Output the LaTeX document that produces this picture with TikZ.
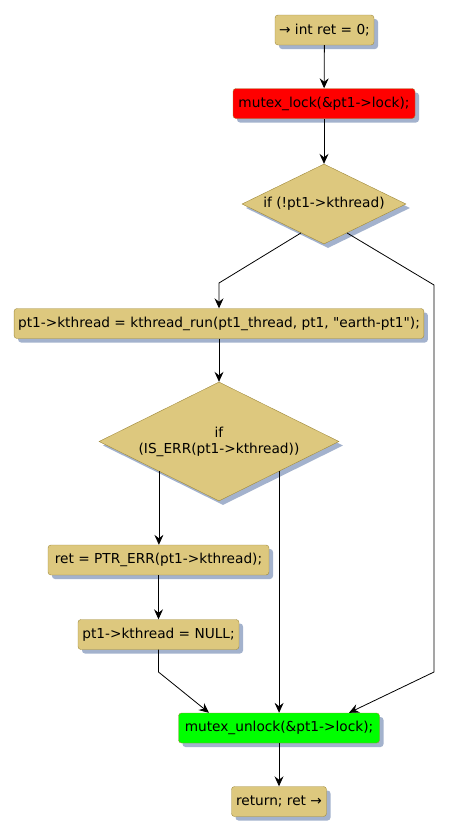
\documentclass[tikz,border=0pt]{standalone}
\usepackage{fontspec}
\setmainfont{DejaVu Sans}
\usetikzlibrary{shapes.geometric,shadows,arrows.meta,calc}
\definecolor{actfill}{RGB}{221,200,126}
\definecolor{actline}{RGB}{160,138,60}
\definecolor{shadowgray}{RGB}{163,178,205}
\begin{document}
\begin{tikzpicture}[x=1pt, y=-1pt,
    box/.style={rectangle, rounded corners=3pt, draw=actline, fill=actfill, minimum height=30pt, inner xsep=4pt, font=\fontsize{13.7}{16}\selectfont, drop shadow={shadow xshift=4pt, shadow yshift=-4pt, fill=shadowgray, opacity=1}},
    decision/.style={diamond, aspect=2, inner sep=0pt, draw=actline, fill=actfill, align=center, font=\fontsize{13.7}{16}\selectfont, drop shadow={shadow xshift=4pt, shadow yshift=-4pt, fill=shadowgray, opacity=1}},
    flow/.style={-{Stealth[length=10pt, width=9pt, inset=3.5pt]}, line width=0.8pt},
]
    \useasboundingbox (0,0) rectangle (449,836);

    % Actions
    \node[box, minimum width=99] (init) at (324.5,30) {→ int ret = 0;};
    \node[box, fill=red, minimum width=182] (lock) at (324,103.5) {mutex\_lock(\&pt1->lock);};
    \node[decision, minimum width=164, minimum height=80] (chk) at (324,204) {if (!pt1->kthread)};
    \node[box, minimum width=408] (run) at (219,323.5) {pt1->kthread = kthread\_run(pt1\_thread, pt1, \textquotedbl earth-pt1\textquotedbl);};
    \node[decision, minimum width=240, minimum height=119] (err) at (219,441.5) {if\\(IS\_ERR(pt1->kthread))};
    \node[box, minimum width=221] (ptr) at (158.5,560) {ret = PTR\_ERR(pt1->kthread);};
    \node[box, minimum width=161] (null) at (158.5,634.5) {pt1->kthread = NULL;};
    \node[box, fill=green, minimum width=201] (unlock) at (279,728) {mutex\_unlock(\&pt1->lock);};
    \node[box, minimum width=95] (ret) at (279,801.5) {return; ret →};

    % Bends
    \coordinate (chkl) at ($(chk.west)!0.72!(chk.south)$);
    \coordinate (chkr) at ($(chk.east)!0.72!(chk.south)$);
    \coordinate (errl) at ($(err.west)!0.5!(err.south)$);
    \coordinate (errr) at ($(err.east)!0.5!(err.south)$);
    \coordinate (k1) at (219,283);
    \coordinate (k2) at (434,285);
    \coordinate (k3) at (434,672);
    \coordinate (k4) at (158.5,672);

    % Connectors
    \draw[flow] (init) -- (lock);
    \draw[flow] (lock) -- (chk);
    \draw[flow] (chkl) -- (k1) -- (run.north);
    \draw[flow] (chkr) -- (k2) -- (k3) -- ($(unlock.north)+(70,0)$);
    \draw[flow] (run) -- (err);
    \draw[flow] (errl) -- (errl |- ptr.north);
    \draw[flow] (errr) -- (errr |- unlock.north);
    \draw[flow] (ptr) -- (null);
    \draw[flow] (null) -- (k4) -- ($(unlock.north)+(-70,0)$);
    \draw[flow] (unlock) -- (ret);
\end{tikzpicture}
\end{document}
